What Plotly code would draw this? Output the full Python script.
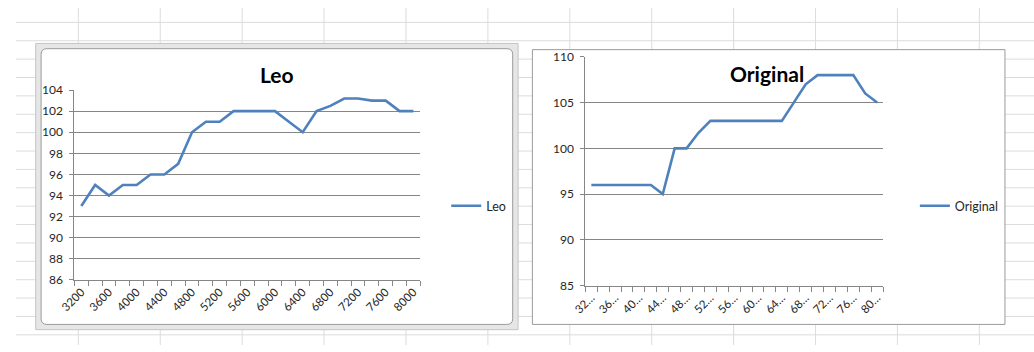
import plotly.graph_objects as go

# ---------------- data ----------------
categories = [3200, 3400, 3600, 3800, 4000, 4200, 4400, 4600, 4800, 5000,
              5200, 5400, 5600, 5800, 6000, 6200, 6400, 6600, 6800, 7000,
              7200, 7400, 7600, 7800, 8000]
leo_values = [93, 95, 94, 95, 95, 96, 96, 97, 100, 101,
              101, 102, 102, 102, 102, 101, 100, 102, 102.5, 103.2,
              103.2, 103, 103, 102, 102]
original_values = [96, 96, 96, 96, 96, 96, 95, 100, 100, 101.7,
                   103, 103, 103, 103, 103, 103, 103, 105, 107, 108,
                   108, 108, 108, 106, 105]
label_vals = [3200, 3600, 4000, 4400, 4800, 5200, 5600, 6000, 6400, 6800, 7200, 7600, 8000]
leo_ticktext = ["3200", "3600", "4000", "4400", "4800", "5200", "5600",
                "6000", "6400", "6800", "7200", "7600", "8000"]
orig_ticktext = ["32…", "36…", "40…", "44…", "48…", "52…", "56…",
                 "60…", "64…", "68…", "72…", "76…", "80…"]
leo_yticks = [86, 88, 90, 92, 94, 96, 98, 100, 102, 104]
orig_yticks = [85, 90, 95, 100, 105, 110]

W, H = 1034, 352
def px(x):
    return x / W
def py(y):
    return 1 - y / H

LINE = "#4F81BD"
AXIS = "#868686"
TXT = "#262626"
FONT = "Lato"

fig = go.Figure()
fig.add_trace(go.Scatter(x=categories, y=leo_values, mode="lines", name="Leo",
                         line=dict(color=LINE, width=2.6), xaxis="x", yaxis="y",
                         legend="legend"))
fig.add_trace(go.Scatter(x=categories, y=original_values, mode="lines", name="Original",
                         line=dict(color=LINE, width=2.6), xaxis="x2", yaxis="y2",
                         legend="legend2"))

def xaxis_cfg(domain, ticktext):
    return dict(domain=domain, range=[3100, 8100], showgrid=False, zeroline=False,
                showline=True, linecolor=AXIS, linewidth=1,
                tickmode="array", tickvals=label_vals, ticktext=ticktext,
                ticks="", tickangle=-45,
                tickfont=dict(family=FONT, size=11.5, color=TXT),
                minor=dict(tick0=3100, dtick=200, ticks="outside", ticklen=5,
                           tickcolor=AXIS, tickwidth=1, showgrid=False),
                fixedrange=True)

def yaxis_cfg(domain, rng, tickvals, anchor):
    return dict(domain=domain, range=rng, tickmode="array", tickvals=tickvals,
                showgrid=True, gridcolor=AXIS, gridwidth=1, zeroline=False,
                showline=True, linecolor=AXIS, linewidth=1,
                ticks="outside", ticklen=4, tickcolor=AXIS,
                tickfont=dict(family=FONT, size=12, color=TXT),
                ticklabelstandoff=4, anchor=anchor, fixedrange=True)

# ---------------- background decoration (spreadsheet) ----------------
shapes = []
GRID = "#dcdcdc"
y = 15.0
while y < H:
    shapes.append(dict(type="line", xref="paper", yref="paper", x0=0, x1=1,
                       y0=py(y), y1=py(y), line=dict(color=GRID, width=1), layer="below"))
    y += 19.2
x = 63.3
while x < W:
    shapes.append(dict(type="line", xref="paper", yref="paper", x0=px(x), x1=px(x),
                       y0=0, y1=1, line=dict(color=GRID, width=1), layer="below"))
    x += 83.2

# left chart: selection frame + rounded chart area
shapes.append(dict(type="rect", xref="paper", yref="paper",
                   x0=px(20), x1=px(510), y0=py(336), y1=py(37),
                   fillcolor="#e6e6e6", line=dict(color="#c4c4c4", width=1), layer="below"))
def rounded(x0, y0, x1, y1, r):
    X = lambda v: f"{px(v):.5f}"
    Y = lambda v: f"{py(v):.5f}"
    return (f"M {X(x0+r)},{Y(y0)} L {X(x1-r)},{Y(y0)} Q {X(x1)},{Y(y0)} {X(x1)},{Y(y0+r)} "
            f"L {X(x1)},{Y(y1-r)} Q {X(x1)},{Y(y1)} {X(x1-r)},{Y(y1)} "
            f"L {X(x0+r)},{Y(y1)} Q {X(x0)},{Y(y1)} {X(x0)},{Y(y1-r)} "
            f"L {X(x0)},{Y(y0+r)} Q {X(x0)},{Y(y0)} {X(x0+r)},{Y(y0)} Z")
shapes.append(dict(type="path", xref="paper", yref="paper",
                   path=rounded(25.5, 42.5, 504.5, 330.5, 6),
                   fillcolor="white", line=dict(color="#9a9a9a", width=1), layer="below"))
# right chart border
shapes.append(dict(type="rect", xref="paper", yref="paper",
                   x0=px(524.5), x1=px(1004.5), y0=py(330.5), y1=py(43.5),
                   fillcolor="white", line=dict(color="#9a9a9a", width=1), layer="below"))

annotations = [
    dict(text="<b>Leo</b>", xref="paper", yref="paper", x=px(265), y=py(69),
         xanchor="center", yanchor="middle", showarrow=False,
         font=dict(family=FONT, size=21, color="#000000")),
    dict(text="<b>Original</b>", xref="paper", yref="paper", x=px(763), y=py(68),
         xanchor="center", yanchor="middle", showarrow=False,
         font=dict(family=FONT, size=21, color="#000000")),
]

fig.update_layout(
    width=W, height=H, autosize=False,
    margin=dict(l=0, r=0, t=0, b=0),
    paper_bgcolor="white", plot_bgcolor="rgba(0,0,0,0)",
    xaxis=xaxis_cfg([px(59.3), px(410.7)], leo_ticktext) | dict(anchor="y"),
    yaxis=yaxis_cfg([py(284), py(85.7)], [86, 104], leo_yticks, "x"),
    xaxis2=xaxis_cfg([px(578.3), px(880.7)], orig_ticktext) | dict(anchor="y2"),
    yaxis2=yaxis_cfg([py(290), py(51)], [85, 110], orig_yticks, "x2"),
    legend=dict(x=px(437), y=py(207), xanchor="left", yanchor="middle",
                bgcolor="rgba(0,0,0,0)", borderwidth=0,
                font=dict(family=FONT, size=12.5, color=TXT)),
    legend2=dict(x=px(913), y=py(207), xanchor="left", yanchor="middle",
                 bgcolor="rgba(0,0,0,0)", borderwidth=0,
                 font=dict(family=FONT, size=12.5, color=TXT)),
    showlegend=True,
    shapes=shapes,
    annotations=annotations,
)

fig.write_html("out.html", config={"displayModeBar": False})
